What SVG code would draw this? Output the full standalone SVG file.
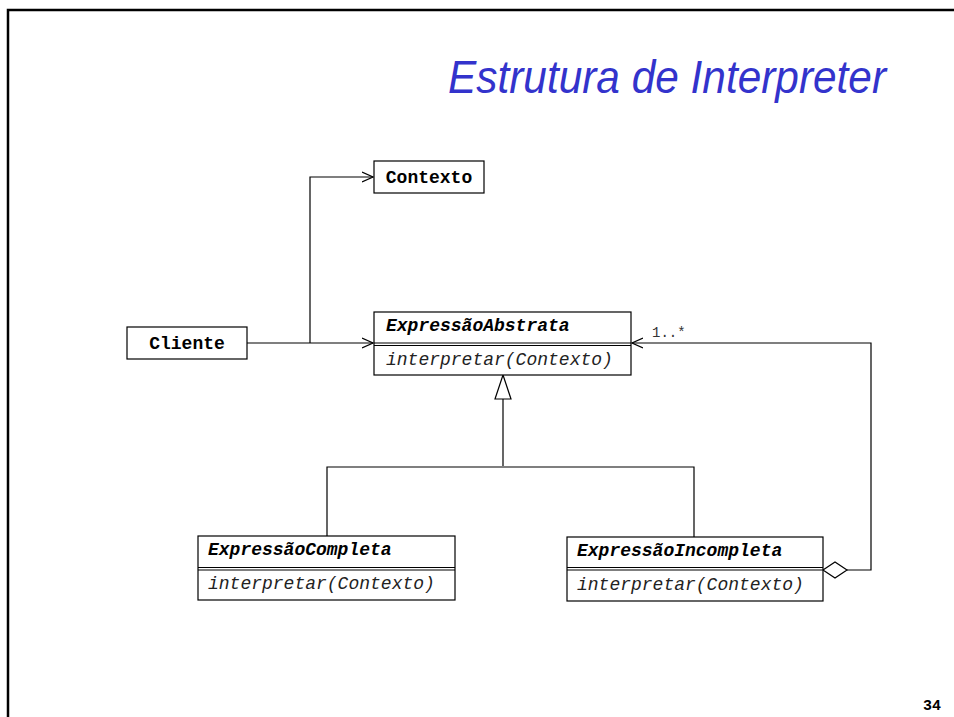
<svg xmlns="http://www.w3.org/2000/svg" width="954" height="717" viewBox="0 0 954 717">
<defs>
<style>
.box{fill:#fff;stroke:#000;stroke-width:1.2}
.ln{fill:none;stroke:#000;stroke-width:1.2}
.t{font-family:"Liberation Mono","Courier New",monospace;font-size:18px;fill:#000}
.b{font-weight:bold}
.i{font-style:italic;fill:#222}
.bi{font-weight:bold;font-style:italic}
</style>
<marker id="open" viewBox="0 0 12 12" refX="11" refY="6" markerWidth="12" markerHeight="12" markerUnits="userSpaceOnUse" orient="auto">
<path d="M0,1 L11,6 L0,11" fill="none" stroke="#000" stroke-width="1.2"/>
</marker>
</defs>
<rect width="954" height="717" fill="#fff"/>
<path d="M8,717 V10 H954" fill="none" stroke="#000" stroke-width="2.5"/>
<text x="448" y="93" textLength="438" lengthAdjust="spacingAndGlyphs" font-family="'Liberation Sans',Arial,sans-serif" font-style="italic" font-size="47" fill="#3333cc">Estrutura de Interpreter</text>

<g id="connectors">
<path class="ln" d="M247,343 H373" marker-end="url(#open)"/>
<path class="ln" d="M310,343 V177 H373" marker-end="url(#open)"/>
<path class="ln" d="M503,466 V399"/>
<path d="M503,375 L495,399 H511 Z" fill="#fff" stroke="#000" stroke-width="1.2"/>
<path class="ln" d="M327,536 V467 H694 V537"/>
<path class="ln" d="M847,570 H871 V343 H632" marker-end="url(#open)"/>
<path d="M823,570 L835,562 L847,570 L835,578 Z" fill="#fff" stroke="#000" stroke-width="1.2"/>
<text x="652" y="337" font-family="'Liberation Mono','Courier New',monospace" font-size="14" fill="#333">1..*</text>
</g>

<g id="contexto">
<rect class="box" x="374" y="161" width="110" height="32"/>
<text class="t b" x="429" y="183" text-anchor="middle">Contexto</text>
</g>

<g id="cliente">
<rect class="box" x="127" y="327" width="120" height="32"/>
<text class="t b" x="187" y="349" text-anchor="middle">Cliente</text>
</g>

<g id="expressaoAbstrata">
<rect class="box" x="374" y="312" width="257" height="63"/>
<path class="ln" d="M374,343 H631 M374,345.5 H631"/>
<text class="t bi" x="386" y="331">ExpressãoAbstrata</text>
<text class="t i" x="386" y="365">interpretar(Contexto)</text>
</g>

<g id="expressaoCompleta">
<rect class="box" x="198" y="536" width="257" height="64"/>
<path class="ln" d="M198,567.5 H455 M198,570 H455"/>
<text class="t bi" x="208" y="555">ExpressãoCompleta</text>
<text class="t i" x="208" y="589">interpretar(Contexto)</text>
</g>

<g id="expressaoIncompleta">
<rect class="box" x="567" y="537" width="256" height="64"/>
<path class="ln" d="M567,567.5 H823 M567,570 H823"/>
<text class="t bi" x="577" y="556">ExpressãoIncompleta</text>
<text class="t i" x="577" y="590">interpretar(Contexto)</text>
</g>

<text x="941" y="710" text-anchor="end" font-family="'Liberation Mono','Courier New',monospace" font-weight="bold" font-size="15" fill="#000">34</text>
</svg>
